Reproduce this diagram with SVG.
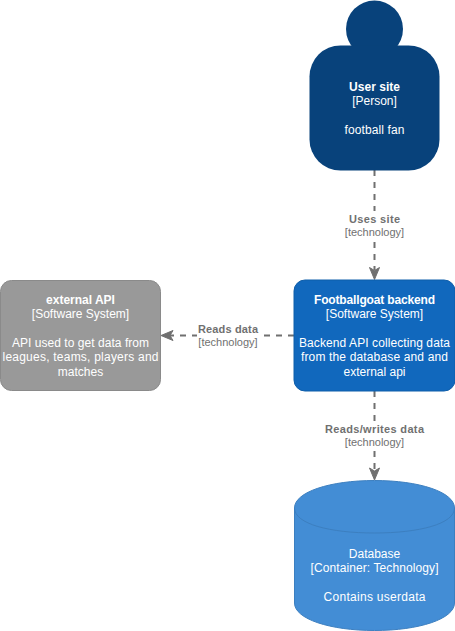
<svg xmlns="http://www.w3.org/2000/svg" width="455" height="631" viewBox="0 0 455 631">
<style>
text{font-family:"Liberation Sans",Arial,sans-serif;text-anchor:middle;font-size:12px}
.n text{fill:#fff}
.b{font-weight:bold}
.c{fill:none;stroke:#707070;stroke-width:2;stroke-dasharray:6 6}
.h{fill:#707070;stroke:#707070;stroke-width:1}
.l{fill:#707070;font-size:11px}
.bg{fill:#fff}
</style>
<g id="connectors">
<path class="c" d="M374.500 170V270"/>
<path class="h" d="M374.500 279.500L369.500 267.500L374.500 270.500L379.500 267.500Z"/>
<rect class="bg" x="343" y="211" width="63" height="29"/>
<text class="l b" x="374.500" y="223" textLength="51">Uses site</text>
<text class="l" x="374.500" y="236">[technology]</text>
<path class="c" d="M294 335.500H170"/>
<path class="h" d="M161 335.500L173 330.500L170 335.500L173 340.500Z"/>
<rect class="bg" x="197" y="322" width="62" height="28"/>
<text class="l b" x="228" y="333" textLength="60">Reads data</text>
<text class="l" x="228" y="346">[technology]</text>
<path class="c" d="M374.500 391V471"/>
<path class="h" d="M374.500 480L369.500 468L374.500 471L379.500 468Z"/>
<rect class="bg" x="324" y="422" width="101" height="28"/>
<text class="l b" x="374.500" y="433" textLength="99">Reads/writes data</text>
<text class="l" x="374.500" y="446">[technology]</text>
</g>
<g id="user-site" class="n">
<circle cx="374.500" cy="29" r="28.500" fill="#08427b"/>
<rect x="309.500" y="45.500" width="130" height="125" rx="31" fill="#08427b"/>
<text class="b" x="374.500" y="91" textLength="51">User site</text>
<text x="374.500" y="105">[Person]</text>
<text x="374.500" y="134" textLength="60">football fan</text>
</g>
<g id="backend" class="n">
<rect x="294" y="280" width="161" height="111" rx="11" fill="#1168bd" stroke="#0f5eaa"/>
<text class="b" x="374.500" y="304" textLength="121">Footballgoat backend</text>
<text x="374.500" y="318">[Software System]</text>
<text x="374.500" y="347" textLength="151">Backend API collecting data</text>
<text x="374.500" y="361" textLength="147">from the database and and</text>
<text x="374.500" y="376">external api</text>
</g>
<g id="external-api" class="n">
<rect x="0.500" y="280.500" width="160" height="110" rx="11" fill="#999" stroke="#8a8a8a"/>
<text class="b" x="80.500" y="304">external API</text>
<text x="80.500" y="318">[Software System]</text>
<text x="80.500" y="347" textLength="137">API used to get data from</text>
<text x="80.500" y="361" textLength="156">leagues, teams, players and</text>
<text x="80.500" y="376">matches</text>
</g>
<g id="database" class="n">
<path d="M294.500 508C294.500 492 330 480.500 374.500 480.500S454.500 492 454.500 508V603C454.500 619 419 630.500 374.500 630.500S294.500 619 294.500 603Z" fill="#438dd5" stroke="#3c7fc0"/>
<path d="M294.500 508C294.500 524 330 533 374.500 533S454.500 524 454.500 508" fill="none" stroke="#3c7fc0"/>
<text x="374.500" y="558">Database</text>
<text x="374.500" y="572" textLength="128">[Container: Technology]</text>
<text x="374.500" y="601" textLength="102">Contains userdata</text>
</g>
</svg>
